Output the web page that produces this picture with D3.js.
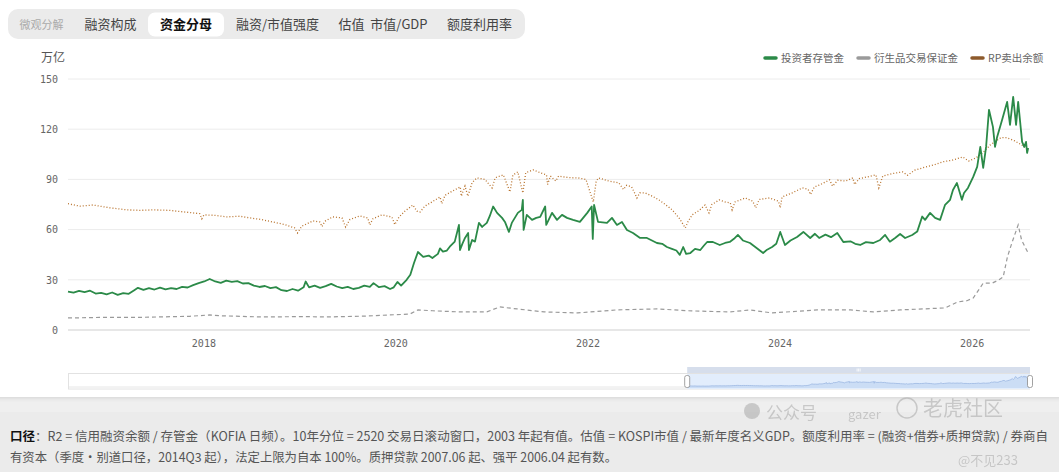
<!DOCTYPE html>
<html><head><meta charset="utf-8">
<script src="https://cdn.jsdelivr.net/npm/d3@7/dist/d3.min.js"></script>
<style>
body{margin:0;background:#efefef;overflow:hidden;}
svg{display:block;}
</style></head><body>
<svg id="c" width="1059" height="472"></svg>
<script>
// ---------------- data ----------------
const tabs = ["微观分解","融资构成","资金分母","融资/市值强度","估值  市值/GDP","额度利用率"];
const activeTab = "资金分母";
const unitLabel = "万亿";
const seriesNames = ["投资者存管金","衍生品交易保证金","RP卖出余额"];
const yTicks = [0,30,60,90,120,150];
const xTickYears = [2018,2020,2022,2024,2026];

// 投资者存管金 [date, 万亿]
const depositSeries = [
["2016-08-04",23.0],["2016-08-25",22.3],["2016-09-15",23.4],["2016-10-06",22.6],["2016-10-27",23.5],["2016-11-17",21.8],["2016-12-08",22.2],["2016-12-29",21.3],
["2017-01-19",22.4],["2017-02-09",21.0],["2017-03-02",22.0],["2017-03-23",21.6],["2017-04-13",23.8],["2017-04-27",25.2],["2017-05-18",24.0],["2017-06-08",25.0],
["2017-06-29",24.2],["2017-07-20",25.3],["2017-08-10",24.3],["2017-08-31",25.0],["2017-09-21",24.5],["2017-10-12",25.8],["2017-11-02",25.4],["2017-11-23",26.8],
["2017-12-14",28.0],["2018-01-04",29.0],["2018-01-25",30.5],["2018-02-15",29.0],["2018-03-08",28.2],["2018-03-29",29.5],["2018-04-19",28.8],["2018-05-10",29.2],
["2018-05-31",27.8],["2018-06-21",28.0],["2018-07-12",26.5],["2018-08-02",25.7],["2018-08-23",26.3],["2018-09-13",25.0],["2018-10-04",25.6],["2018-10-25",23.8],
["2018-11-15",23.3],["2018-12-06",24.5],["2018-12-27",23.5],["2019-01-17",25.5],["2019-01-25",29.0],["2019-02-07",25.5],["2019-02-28",26.5],["2019-03-21",25.2],
["2019-04-11",26.2],["2019-05-02",27.6],["2019-05-23",26.0],["2019-06-13",25.0],["2019-07-04",25.8],["2019-07-25",24.5],["2019-08-15",25.2],["2019-09-05",26.5],
["2019-09-26",25.8],["2019-10-10",28.0],["2019-10-31",25.6],["2019-11-21",26.2],["2019-12-12",24.5],["2019-12-26",25.5],["2020-01-09",28.7],["2020-01-23",26.5],
["2020-02-13",30.0],["2020-02-27",33.0],["2020-03-12",40.0],["2020-03-27",46.6],["2020-04-16",43.7],["2020-05-07",44.5],["2020-05-21",43.0],["2020-06-11",45.5],
["2020-06-19",48.8],["2020-06-30",46.8],["2020-07-15",47.5],["2020-07-26",49.8],["2020-08-14",52.8],["2020-08-30",62.8],["2020-09-03",47.8],["2020-09-12",51.5],
["2020-09-22",55.0],["2020-10-04",58.0],["2020-10-07",47.8],["2020-10-19",53.8],["2020-10-30",52.8],["2020-11-14",64.0],["2020-11-26",61.6],["2020-12-14",64.0],
["2020-12-25",68.0],["2021-01-07",73.8],["2021-01-22",70.0],["2021-02-10",67.0],["2021-02-21",64.6],["2021-03-08",58.6],["2021-03-19",64.0],["2021-04-11",70.0],
["2021-04-26",71.8],["2021-04-30",77.8],["2021-05-03",59.8],["2021-05-15",68.8],["2021-06-04",65.8],["2021-06-20",67.0],["2021-07-05",67.6],["2021-07-24",73.8],
["2021-07-28",62.8],["2021-08-19",70.0],["2021-09-07",65.8],["2021-09-26",68.8],["2021-10-15",67.0],["2021-11-07",65.8],["2021-12-03",64.6],["2021-12-31",70.0],
["2022-01-17",73.8],["2022-01-21",54.4],["2022-01-26",74.8],["2022-02-10",64.6],["2022-03-16",64.0],["2022-04-04",67.0],["2022-04-23",62.8],["2022-05-12",64.6],
["2022-05-31",59.8],["2022-06-23",58.0],["2022-07-20",55.0],["2022-08-15",55.0],["2022-09-03",53.5],["2022-09-22",52.0],["2022-10-12",51.5],["2022-10-30",49.6],
["2022-11-18",48.5],["2022-12-05",47.5],["2022-12-18",44.9],["2022-12-31",49.6],["2023-01-11",45.5],["2023-01-27",46.0],["2023-02-14",48.5],["2023-03-06",47.8],
["2023-03-20",50.5],["2023-04-01",52.6],["2023-04-23",52.6],["2023-05-19",50.8],["2023-06-08",52.0],["2023-06-26",52.6],["2023-07-12",54.5],["2023-07-27",56.8],
["2023-08-15",53.5],["2023-09-11",52.0],["2023-10-06",49.0],["2023-10-31",46.0],["2023-11-15",48.0],["2023-12-04",49.6],["2023-12-20",51.5],["2024-01-04",58.6],
["2024-01-22",50.8],["2024-02-12",53.5],["2024-03-08",55.6],["2024-04-01",58.6],["2024-04-27",55.0],["2024-05-15",57.5],["2024-05-31",55.0],["2024-06-24",57.0],
["2024-07-15",55.5],["2024-08-08",58.0],["2024-08-31",52.6],["2024-09-27",53.0],["2024-10-15",51.5],["2024-11-03",50.8],["2024-11-25",52.5],["2024-12-23",52.0],
["2025-01-18",53.8],["2025-02-06",56.8],["2025-02-24",52.8],["2025-03-16",55.0],["2025-04-04",57.4],["2025-04-23",55.0],["2025-05-20",56.8],["2025-06-08",58.8],
["2025-06-27",67.8],["2025-07-08",65.8],["2025-07-27",70.0],["2025-08-15",67.0],["2025-09-03",65.8],["2025-09-22",74.8],["2025-10-11",77.8],["2025-10-22",83.7],
["2025-11-06",87.9],["2025-11-25",77.8],["2025-12-03",81.9],["2025-12-18",84.9],["2026-01-07",91.5],["2026-01-22",97.5],["2026-02-03",109.4],["2026-02-14",96.9],
["2026-02-25",109.4],["2026-03-08",131.6],["2026-03-23",121.4],["2026-03-31",109.4],["2026-04-08",115.4],["2026-04-27",125.6],["2026-05-16",136.3],["2026-05-27",122.6],
["2026-06-08",139.3],["2026-06-19",122.6],["2026-06-27",136.3],["2026-07-12",112.4],["2026-07-20",109.4],["2026-07-27",112.4],["2026-07-31",105.8],["2026-08-04",108.8]
];

// 衍生品交易保证金 [date, 万亿]
const marginSeries = [
["2016-08-04",7.2],["2016-12-01",7.5],["2017-04-22",7.5],["2017-07-18",7.8],["2017-11-10",8.2],["2018-01-25",9.0],["2018-03-11",8.5],["2018-08-03",7.8],
["2019-01-25",8.0],["2019-04-15",7.8],["2019-09-07",8.3],["2019-12-11",9.0],["2020-02-25",9.5],["2020-03-27",12.0],["2020-05-22",11.5],["2020-09-03",10.8],
["2020-12-14",10.8],["2021-02-01",13.8],["2021-04-08",12.6],["2021-07-20",10.8],["2021-11-25",10.2],["2022-04-20",12.0],["2022-09-22",12.6],["2023-02-01",11.4],
["2023-06-26",10.8],["2023-09-11",12.0],["2023-12-04",10.2],["2024-05-24",12.0],["2024-09-27",12.0],["2024-12-23",10.8],["2025-04-04",12.0],["2025-09-23",13.2],
["2025-11-07",16.7],["2025-12-14",17.5],["2026-01-07",19.1],["2026-02-14",28.0],["2026-03-20",28.0],["2026-04-15",30.0],["2026-05-01",31.7],["2026-05-17",43.6],
["2026-06-03",52.0],["2026-06-27",62.8],["2026-07-10",53.8],["2026-07-23",49.6],["2026-08-04",46.0]
];

// RP卖出余额 [date, 万亿]
const rpSeries = [
["2016-08-04",75.5],["2016-09-18",74.0],["2016-11-06",74.7],["2017-01-11",73.0],["2017-03-17",71.8],["2017-05-05",71.5],["2017-06-23",71.8],["2017-08-25",71.5],
["2017-10-23",70.5],["2017-11-22",70.0],["2017-12-18",69.5],["2017-12-26",66.5],["2018-01-03",68.8],["2018-02-14",68.5],["2018-04-01",67.6],["2018-05-19",68.0],
["2018-06-26",67.0],["2018-08-10",66.0],["2018-09-21",64.6],["2018-11-06",63.0],["2018-12-14",61.0],["2018-12-25",58.0],["2019-01-10",62.0],["2019-02-22",65.2],
["2019-03-20",64.5],["2019-03-28",61.8],["2019-04-08",65.0],["2019-05-08",67.6],["2019-06-12",67.0],["2019-06-26",61.5],["2019-07-12",66.0],["2019-08-20",68.2],
["2019-09-18",67.0],["2019-09-26",62.8],["2019-10-08",66.5],["2019-11-11",68.8],["2019-12-19",67.5],["2019-12-30",63.0],["2020-01-15",67.5],["2020-02-06",71.0],
["2020-03-08",74.7],["2020-03-23",71.0],["2020-04-04",70.5],["2020-04-22",74.0],["2020-05-19",76.5],["2020-06-19",79.5],["2020-06-26",75.5],["2020-07-08",80.5],
["2020-08-05",83.0],["2020-09-04",85.5],["2020-09-08",80.0],["2020-09-22",86.0],["2020-10-03",80.0],["2020-10-19",88.0],["2020-11-06",90.9],["2020-12-07",90.0],
["2021-01-03",84.9],["2021-01-15",91.0],["2021-02-15",92.7],["2021-03-12",82.5],["2021-03-23",92.5],["2021-04-11",94.5],["2021-04-30",81.9],["2021-05-11",94.0],
["2021-06-08",95.7],["2021-07-05",94.0],["2021-07-29",92.7],["2021-08-02",87.0],["2021-08-13",92.0],["2021-09-02",89.0],["2021-09-13",92.0],["2021-10-01",91.5],
["2021-10-29",91.0],["2021-11-25",90.9],["2021-12-26",90.0],["2022-01-23",76.5],["2022-02-03",89.0],["2022-02-12",90.9],["2022-03-23",89.0],["2022-04-30",87.9],
["2022-05-18",84.0],["2022-05-30",86.5],["2022-06-18",85.5],["2022-07-08",78.9],["2022-07-19",82.0],["2022-08-08",81.9],["2022-09-04",80.0],["2022-09-30",77.7],
["2022-10-24",75.0],["2022-11-19",71.8],["2022-12-15",67.0],["2023-01-08",61.0],["2023-01-19",65.0],["2023-02-03",68.8],["2023-03-02",71.5],["2023-03-24",74.7],
["2023-04-08",70.0],["2023-04-19",75.0],["2023-05-17",77.7],["2023-06-08",76.5],["2023-06-28",76.0],["2023-07-05",71.8],["2023-07-16",76.5],["2023-08-24",78.9],
["2023-09-21",77.0],["2023-10-03",73.0],["2023-10-16",78.0],["2023-11-24",78.9],["2023-12-28",77.0],["2024-01-04",73.0],["2024-01-11",79.5],["2024-02-19",82.0],
["2024-03-28",84.9],["2024-04-19",84.0],["2024-04-28",81.0],["2024-05-13",85.5],["2024-06-02",86.7],["2024-07-10",89.7],["2024-07-21",86.0],["2024-08-10",89.5],
["2024-09-09",89.0],["2024-10-06",90.9],["2024-10-13",87.0],["2024-10-31",90.5],["2024-12-01",91.5],["2025-01-02",92.7],["2025-01-13",84.9],["2025-01-28",92.0],
["2025-03-07",93.5],["2025-04-13",94.5],["2025-05-02",92.5],["2025-05-30",95.5],["2025-07-11",97.5],["2025-08-07",98.5],["2025-09-13",100.5],["2025-10-20",101.5],
["2025-11-28",103.4],["2025-12-21",101.0],["2026-01-17",102.8],["2026-02-13",106.0],["2026-03-12",110.5],["2026-04-04",113.0],["2026-04-23",115.0],["2026-05-11",115.0],
["2026-05-30",114.0],["2026-06-14",113.0],["2026-07-06",111.0],["2026-07-21",109.5],["2026-08-01",108.0],["2026-08-04",107.6]
];

const footerLine1 = "R2 = 信用融资余额 / 存管金（KOFIA 日频）。10年分位 = 2520 交易日滚动窗口，2003 年起有值。估值 = KOSPI市值 / 最新年度名义GDP。额度利用率 = (融资+借券+质押贷款) / 券商自";
const footerLine2 = "有资本（季度・别道口径，2014Q3 起），法定上限为自本 100%。质押贷款 2007.06 起、强平 2006.04 起有数。";

// ---------------- drawing ----------------
const parse = d3.timeParse("%Y-%m-%d");
const svg = d3.select("#c");
const CJK = "'Noto Sans CJK SC','Noto Sans',sans-serif";
const MONO = "'DejaVu Sans Mono',monospace";

const defs = svg.append("defs");
const sh = defs.append("filter").attr("id","sh").attr("x","-5%").attr("y","-5%").attr("width","110%").attr("height","120%");
sh.append("feDropShadow").attr("dx",0).attr("dy",1).attr("stdDeviation",2).attr("flood-color","#000").attr("flood-opacity",0.12);

// page / footer background
svg.append("rect").attr("x",0).attr("y",0).attr("width",1059).attr("height",472).attr("fill","#efefef");
svg.append("rect").attr("x",0).attr("y",412).attr("width",1059).attr("height",60).attr("fill","#ebebeb");
// card
svg.append("rect").attr("x",-12).attr("y",-20).attr("width",1083).attr("height",417).attr("rx",10)
  .attr("fill","#fff").attr("filter","url(#sh)");

// tabs
svg.append("rect").attr("x",8).attr("y",9).attr("width",517).attr("height",30).attr("rx",10).attr("fill","#ebebeb");
const tabCenters = [41.5,110.5,186,277.5,383,479.5];
svg.append("rect").attr("x",148).attr("y",12.5).attr("width",76).attr("height",24).attr("rx",7).attr("fill","#fff");
tabs.forEach((t,i)=>{
  const isA = t===activeTab;
  svg.append("text").attr("x",tabCenters[i]).attr("y",29).attr("text-anchor","middle")
    .attr("font-family",CJK).attr("font-size", i===0?11:13)
    .attr("font-weight", isA?"bold":"normal")
    .attr("fill", isA?"#111":(i===0?"#aaa":"#444"))
    .style("white-space","pre")
    .text(t);
});

// scales
const x = d3.scaleTime().domain([parse("2016-08-04"), parse("2026-08-11")]).range([68,1030]);
const y = d3.scaleLinear().domain([0,150]).range([330,79]);

// unit label
svg.append("text").attr("x",41).attr("y",62).attr("font-family",CJK).attr("font-size",12).attr("fill","#555").text(unitLabel);

// grid
svg.append("g").selectAll("line").data(yTicks.filter(v=>v>0)).join("line")
  .attr("x1",68).attr("x2",1030).attr("y1",d=>y(d)).attr("y2",d=>y(d))
  .attr("stroke","#ececec").attr("stroke-width",1);
svg.append("line").attr("x1",68).attr("x2",1030).attr("y1",y(0)).attr("y2",y(0)).attr("stroke","#cfcfcf");

// y axis
const ya = svg.append("g").attr("transform","translate(60,0)")
  .call(d3.axisLeft(y).tickValues(yTicks).tickSize(0).tickPadding(2));
ya.select(".domain").remove();
ya.selectAll("text").attr("font-family",MONO).attr("font-size",10).attr("fill","#666");

// x axis
const xa = svg.append("g").attr("transform","translate(0,337)")
  .call(d3.axisBottom(x).tickValues(xTickYears.map(yr=>new Date(yr,0,1))).tickFormat(d3.timeFormat("%Y")).tickSize(0).tickPadding(3));
xa.select(".domain").remove();
xa.selectAll("text").attr("font-family",MONO).attr("font-size",10).attr("fill","#666");

const mk = arr=>arr.map(([d,v])=>({d:parse(d),v}));
const deposit = mk(depositSeries);
const margin = mk(marginSeries);
const rp = mk(rpSeries);
const line = d3.line().x(p=>x(p.d)).y(p=>y(p.v));

svg.append("path").datum(margin).attr("d",line).attr("fill","none")
  .attr("stroke","#9a9a9a").attr("stroke-width",1.2).attr("stroke-dasharray","4,3");
svg.append("path").datum(rp).attr("d",line).attr("fill","none")
  .attr("stroke","#b8722c").attr("stroke-width",1.3).attr("stroke-dasharray","1,2");
svg.append("path").datum(deposit).attr("d",line).attr("fill","none")
  .attr("stroke","#2b8a48").attr("stroke-width",1.8).attr("stroke-linejoin","round");

// legend
const legColors = ["#2b8a48","#9a9a9a","#8d5a2b"];
const legX = [765,858,972];
seriesNames.forEach((n,i)=>{
  svg.append("line").attr("x1",legX[i]).attr("x2",legX[i]+11).attr("y1",58).attr("y2",58)
    .attr("stroke",legColors[i]).attr("stroke-width",3.5).attr("stroke-linecap","round");
  svg.append("text").attr("x",legX[i]+16).attr("y",62).attr("font-family",CJK).attr("font-size",10.5)
    .attr("fill","#666").text(n);
});

// slider (data zoom)
const sx = d3.scaleTime().domain([parse("1998-07-01"), parse("2026-08-11")]).range([68,1030]);
const sy = d3.scaleLinear().domain([0,150]).range([388,375]);
svg.append("rect").attr("x",68.5).attr("y",373.5).attr("width",961).attr("height",15.5).attr("fill","#fff").attr("stroke","#e2e2e2");
svg.append("line").attr("x1",69).attr("x2",688).attr("y1",387).attr("y2",387).attr("stroke","#e6e6e6");
const s0 = sx(parse("2016-08-04")), s1 = sx(parse("2026-08-11"));
svg.append("rect").attr("x",s0).attr("y",374).attr("width",s1-s0).attr("height",15).attr("fill","#e2edfc");
svg.append("rect").attr("x",s0).attr("y",367).attr("width",s1-s0).attr("height",6).attr("fill","#d6deec");
[-1.5,0,1.5].forEach(o=>svg.append("line").attr("x1",(s0+s1)/2+o).attr("x2",(s0+s1)/2+o).attr("y1",368.5).attr("y2",371.5).attr("stroke","#fff").attr("stroke-width",0.8));
const area = d3.area().x(p=>sx(p.d)).y0(388).y1(p=>sy(p.v));
svg.append("path").datum(deposit).attr("d",area).attr("fill","#c6d8f3").attr("opacity",0.8);
svg.append("path").datum(deposit).attr("d",d3.line().x(p=>sx(p.d)).y(p=>sy(p.v))).attr("fill","none").attr("stroke","#9cb8e2").attr("stroke-width",0.8);
[s0,s1].forEach(sv=>svg.append("rect").attr("x",sv-2.5).attr("y",375.5).attr("width",5).attr("height",12).attr("rx",2)
  .attr("fill","#fff").attr("stroke","#8a8a8a").attr("stroke-width",0.8));

// footer text
const f1 = svg.append("text").attr("x",10).attr("y",441).attr("font-family",CJK).attr("font-size",12.5)
  .attr("textLength",1038).attr("lengthAdjust","spacingAndGlyphs");
f1.append("tspan").attr("font-weight","bold").attr("fill","#111").text("口径");
f1.append("tspan").attr("fill","#555").text("：" + footerLine1);
svg.append("text").attr("x",10).attr("y",462).attr("font-family",CJK).attr("font-size",12.5)
  .attr("textLength",607).attr("lengthAdjust","spacingAndGlyphs").attr("fill","#555").text(footerLine2);

// watermark overlays
const wm = svg.append("g").attr("fill","#9a9a9a").attr("opacity",0.45).attr("font-family",CJK);
wm.append("circle").attr("cx",907).attr("cy",408).attr("r",10).attr("fill","none").attr("stroke","#9a9a9a").attr("stroke-width",1.5);
wm.append("text").attr("x",923).attr("y",416).attr("font-size",20).text("老虎社区");
wm.append("circle").attr("cx",752).attr("cy",411).attr("r",8);
wm.append("text").attr("x",766).attr("y",419).attr("font-size",17).text("公众号");
wm.append("text").attr("x",848).attr("y",419).attr("font-size",13).text("gazer");
wm.append("text").attr("x",958).attr("y",465).attr("font-size",13).text("@不见233");
</script>
</body></html>
